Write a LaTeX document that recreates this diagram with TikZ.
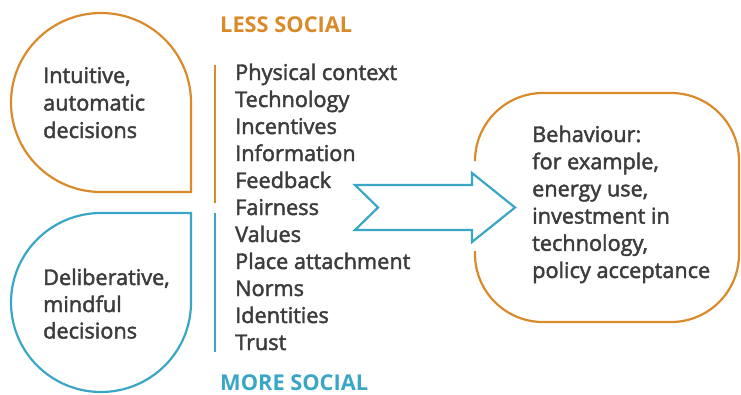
\documentclass[tikz,border=0pt]{standalone}
\usepackage{fontspec}
\setmainfont{Open Sans}
\definecolor{corange}{HTML}{D98B2B}
\definecolor{cblue}{HTML}{3AA6C6}
\definecolor{ctext}{HTML}{3C3C3C}
\newcommand\semibold[1]{\special{pdf:literal direct 2 Tr 0.45 w}#1\special{pdf:literal direct 0 Tr}}
\begin{document}
\begin{tikzpicture}[x=1pt,y=-1pt,
  txt/.style={anchor=base west,inner sep=0pt,text=ctext,font=\fontsize{21.7}{22}\selectfont},
  head/.style={anchor=base west,inner sep=0pt,font=\bfseries\fontsize{21.8}{22}\selectfont},
  outline/.style={line width=2.2pt}]
\useasboundingbox (0,0) rectangle (741,394);
% top-left orange drop
\draw[outline,corange,line join=miter] (191,103) -- (191,192) -- (101,192)
  arc[start angle=270,end angle=0,x radius=90,y radius=-89.5] -- cycle;
% bottom-left blue drop
\draw[outline,cblue,line join=miter] (191,303) -- (191,213) -- (101,213)
  arc[start angle=90,end angle=360,x radius=90,y radius=-89.5] -- cycle;
% scale bars
\coordinate (o1) at (215,65); \coordinate (o2) at (215,203);
\coordinate (b1) at (215,213); \coordinate (b2) at (215,352);
\draw[outline,corange] (o1) -- (o2);
\draw[outline,cblue] (b1) -- (b2);
% headings
\node[head,text=corange] (less) at (220,32) {LESS SOCIAL};
\node[head,text=cblue] (more) at (220,390) {MORE SOCIAL};
% list
\foreach \t [count=\i from 0] in {Physical context,Technology,Incentives,Information,Feedback,Fairness,Values,Place attachment,Norms,Identities,Trust}
  \node[txt] (l\i) at (235,80+27*\i) {\semibold{\t}};
% left texts
\node[txt] (i1) at (43,83) {\semibold{Intuitive,}};
\node[txt] (i2) at (43,110.5) {\semibold{automatic}};
\node[txt] (i3) at (43,138) {\semibold{decisions}};
\node[txt] (d1) at (43,285) {\semibold{Deliberative,}};
\node[txt] (d2) at (43,312) {\semibold{mindful}};
\node[txt] (d3) at (43,338.5) {\semibold{decisions}};
% arrow
\draw[outline,cblue,line join=miter] (355,185) -- (472,185) -- (472,173) -- (515,207.5)
  -- (472,242) -- (472,230) -- (355,230) -- (378,207.5) -- cycle;
% behaviour shape
\draw[outline,corange,rounded corners=68] (475,251) -- (475,322) -- (739,322)
  -- (739,93) -- (475,93) -- (475,160);
\foreach \t [count=\i from 0] in {Behaviour:,{for example,},{energy use,},investment in,{technology,},policy acceptance}
  \node[txt] (r\i) at (532,142+27.2*\i) {\semibold{\t}};
\end{tikzpicture}
\end{document}
